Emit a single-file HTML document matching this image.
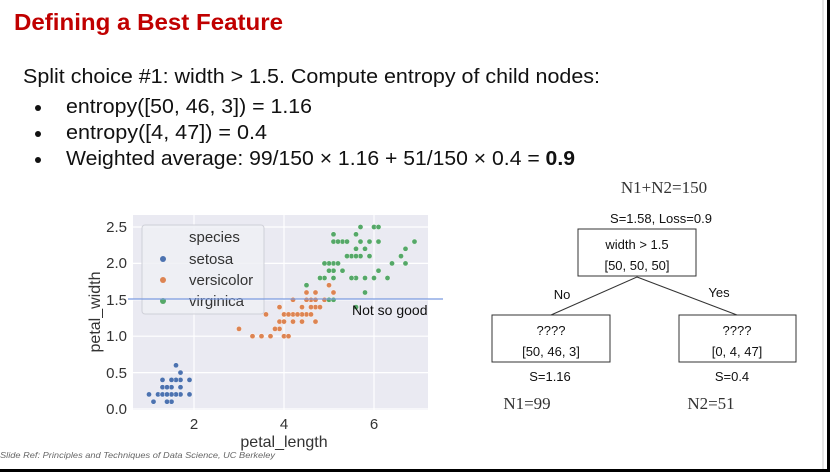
<!DOCTYPE html>
<html><head><meta charset="utf-8"><style>
html,body{margin:0;padding:0;background:#fff}
svg{display:block}
</style></head><body>
<svg id="s" width="830" height="472" xmlns="http://www.w3.org/2000/svg" font-family="Liberation Sans, sans-serif">
<rect x="0" y="0" width="830" height="472" fill="#fff"/>
<line x1="823" y1="0" x2="823" y2="469" stroke="#ccc" stroke-width="1"/>
<rect x="827" y="0" width="3" height="472" fill="#000"/>
<rect x="0" y="469" width="830" height="3" fill="#000"/>
<text x="14" y="30" font-size="23" font-weight="bold" fill="#c00000" textLength="269" lengthAdjust="spacingAndGlyphs">Defining a Best Feature</text>
<text x="23" y="83" font-size="20" fill="#111" textLength="577" lengthAdjust="spacingAndGlyphs">Split choice #1: width &gt; 1.5. Compute entropy of child nodes:</text>
<circle cx="38" cy="108" r="3" fill="#111"/><circle cx="38" cy="134" r="3" fill="#111"/><circle cx="38" cy="160" r="3" fill="#111"/>
<text x="66" y="113" font-size="20" fill="#111" textLength="246" lengthAdjust="spacingAndGlyphs">entropy([50, 46, 3]) = 1.16</text>
<text x="66" y="139" font-size="20" fill="#111" textLength="201" lengthAdjust="spacingAndGlyphs">entropy([4, 47]) = 0.4</text>
<text x="66" y="165" font-size="20" fill="#111" textLength="509" lengthAdjust="spacingAndGlyphs">Weighted average: 99/150 × 1.16 + 51/150 × 0.4 = <tspan font-weight="bold">0.9</tspan></text>

<rect x="133" y="215" width="295" height="195" fill="#eaeaf2"/>
<g stroke="#fff" stroke-width="1.2">
<line x1="194" y1="215" x2="194" y2="410"/><line x1="284" y1="215" x2="284" y2="410"/><line x1="374" y1="215" x2="374" y2="410"/>
<line x1="133" y1="227" x2="428" y2="227"/><line x1="133" y1="263.4" x2="428" y2="263.4"/><line x1="133" y1="299.8" x2="428" y2="299.8"/><line x1="133" y1="336.2" x2="428" y2="336.2"/><line x1="133" y1="372.6" x2="428" y2="372.6"/><line x1="133" y1="409" x2="428" y2="409"/>
</g>
<g id="pts"></g>
<g font-size="15" fill="#333" text-anchor="end">
<text x="127" y="232">2.5</text><text x="127" y="268">2.0</text><text x="127" y="305">1.5</text><text x="127" y="341">1.0</text><text x="127" y="378">0.5</text><text x="127" y="414">0.0</text>
</g>
<g font-size="15" fill="#333" text-anchor="middle">
<text x="194" y="429">2</text><text x="284" y="429">4</text><text x="374" y="429">6</text>
<text x="284" y="447" font-size="16">petal_length</text>
</g>
<text transform="translate(100,312) rotate(-90)" font-size="16" fill="#333" text-anchor="middle">petal_width</text>
<rect x="142" y="225" width="122" height="89" rx="3" fill="#eef0f5" fill-opacity="0.85" stroke="#cfd0d8"/>
<g font-size="15" fill="#333">
<text x="189" y="242">species</text>
<text x="189" y="264">setosa</text>
<text x="189" y="285">versicolor</text>
<text x="189" y="306">virginica</text>
</g>
<circle cx="163" cy="259" r="3" fill="#4c72b0"/><circle cx="163" cy="280" r="3" fill="#dd8452"/><circle cx="163" cy="301" r="3" fill="#55a868"/>
<line x1="128" y1="299" x2="443" y2="299" stroke="#7b9be0" stroke-width="1.3"/>
<text x="352" y="315" font-size="14" fill="#111">Not so good</text>
<text x="0" y="458" font-size="8.5" font-style="italic" fill="#666" textLength="275" lengthAdjust="spacingAndGlyphs">Slide Ref:  Principles and Techniques of Data Science, UC Berkeley</text>

<g font-family="Liberation Serif, serif" font-size="17" fill="#333" text-anchor="middle">
<text x="664" y="193">N1+N2=150</text>
<text x="527" y="409">N1=99</text>
<text x="711" y="409">N2=51</text>
</g>
<g font-size="13" fill="#111" text-anchor="middle">
<text x="661" y="223">S=1.58, Loss=0.9</text>
<rect x="578" y="229" width="118" height="47" fill="#fff" stroke="#333"/>
<text x="637" y="249">width &gt; 1.5</text>
<text x="637" y="270">[50, 50, 50]</text>
<line x1="637" y1="277" x2="551" y2="315" stroke="#333"/>
<line x1="637" y1="277" x2="737" y2="315" stroke="#333"/>
<text x="562" y="299">No</text>
<text x="719" y="297">Yes</text>
<rect x="492" y="315" width="118" height="47" fill="#fff" stroke="#333"/>
<text x="551" y="335">????</text><text x="551" y="356">[50, 46, 3]</text>
<rect x="679" y="315" width="117" height="47" fill="#fff" stroke="#333"/>
<text x="737" y="335">????</text><text x="737" y="356">[0, 4, 47]</text>
<text x="550" y="381">S=1.16</text>
<text x="732" y="381">S=0.4</text>
</g>
</svg>
<script>
var S="1.4 .2,1.4 .2,1.3 .2,1.5 .2,1.4 .2,1.7 .4,1.4 .3,1.5 .2,1.4 .2,1.5 .1,1.5 .2,1.6 .2,1.4 .1,1.1 .1,1.2 .2,1.5 .4,1.3 .4,1.4 .3,1.7 .3,1.5 .3,1.7 .2,1.5 .4,1.0 .2,1.7 .5,1.9 .2,1.6 .2,1.6 .4,1.5 .2,1.4 .2,1.6 .2,1.6 .2,1.5 .4,1.5 .1,1.4 .2,1.5 .2,1.2 .2,1.3 .2,1.4 .1,1.3 .2,1.5 .2,1.3 .3,1.3 .3,1.3 .2,1.6 .6,1.9 .4,1.4 .3,1.6 .2,1.4 .2,1.5 .2,1.4 .2";
var V="4.7 1.4,4.5 1.5,4.9 1.5,4.0 1.3,4.6 1.5,4.5 1.3,4.7 1.6,3.3 1.0,4.6 1.3,3.9 1.4,3.5 1.0,4.2 1.5,4.0 1.0,4.7 1.4,3.6 1.3,4.4 1.4,4.5 1.5,4.1 1.0,4.5 1.5,3.9 1.1,4.8 1.8,4.0 1.3,4.9 1.5,4.7 1.2,4.3 1.3,4.4 1.4,4.8 1.4,5.0 1.7,4.5 1.5,3.5 1.0,3.8 1.1,3.7 1.0,3.9 1.2,5.1 1.6,4.5 1.5,4.5 1.6,4.7 1.5,4.4 1.3,4.1 1.3,4.0 1.3,4.4 1.2,4.6 1.4,4.0 1.2,3.3 1.0,4.2 1.3,4.2 1.2,4.2 1.3,4.3 1.3,3.0 1.1,4.1 1.3";
var G="6.0 2.5,5.1 1.9,5.9 2.1,5.6 1.8,5.8 2.2,6.6 2.1,4.5 1.7,6.3 1.8,5.8 1.8,6.1 2.5,5.1 2.0,5.3 1.9,5.5 2.1,5.0 2.0,5.1 2.4,5.3 2.3,5.5 1.8,6.7 2.2,6.9 2.3,5.0 1.5,5.7 2.3,4.9 2.0,6.7 2.0,4.9 1.8,5.7 2.1,6.0 1.8,4.8 1.8,4.9 1.8,5.6 2.1,5.8 1.6,6.1 1.9,6.4 2.0,5.6 2.2,5.1 1.5,5.6 1.4,6.1 2.3,5.6 2.4,5.5 1.8,4.8 1.8,5.4 2.1,5.6 2.4,5.1 2.3,5.1 1.9,5.9 2.3,5.7 2.5,5.2 2.3,5.0 1.9,5.2 2.0,5.4 2.3,5.1 1.8";
var g=document.getElementById('pts'),h='';
[[S,'#4c72b0'],[V,'#dd8452'],[G,'#55a868']].forEach(function(a){a[0].split(',').forEach(function(p){var q=p.split(' ');var x=104+45*parseFloat(q[0]),y=409-72.8*parseFloat(q[1]);h+='<circle cx="'+x.toFixed(1)+'" cy="'+y.toFixed(1)+'" r="2.6" fill="'+a[1]+'" stroke="#fff" stroke-width="0.4"/>';});});
g.innerHTML=h;
</script>
</body></html>
